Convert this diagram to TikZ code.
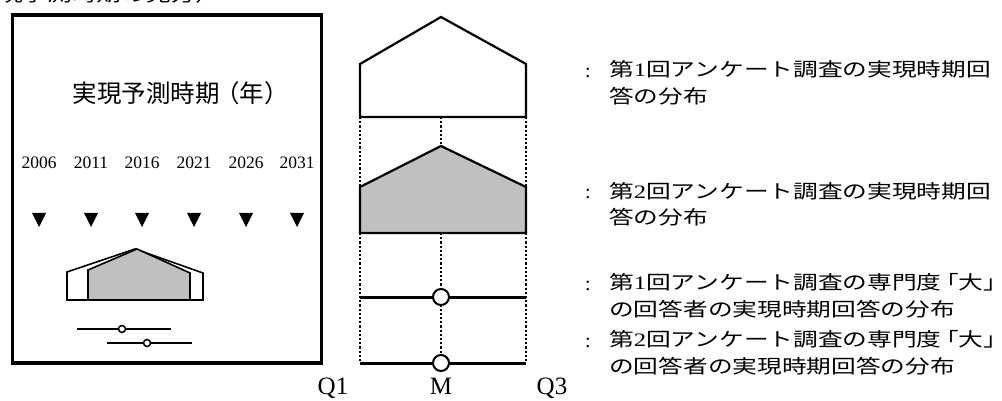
\documentclass[tikz,border=0pt]{standalone}
\usepackage{fontspec}
\usepackage{graphicx}
\setmainfont{Liberation Serif}
\newfontfamily\jp{Noto Sans CJK JP}
\definecolor{boxgray}{RGB}{192,192,192}
\newcommand\wtwo[2]{\scalebox{1.3}[1]{\begin{tabular}[t]{@{}l@{}}#1\\#2\end{tabular}}}
\newcommand\wone[1]{\scalebox{1.3}[1]{#1}}
\newcommand\dai{\kern-0.3em「大」\kern-0.5em}
\tikzset{
  frame/.style={line width=3.4pt},
  outl/.style={line width=2.2pt, line join=miter},
  soutl/.style={line width=1.6pt, line join=miter},
  dotl/.style={line width=2.8pt, dash pattern=on 2.2pt off 2pt},
  bar/.style={line width=3pt},
  med/.style={circle, draw, line width=2pt, fill=white, minimum size=16pt, inner sep=0pt},
  sbar/.style={line width=1.5pt},
  smed/.style={circle, draw, line width=1.5pt, fill=white, minimum size=7pt, inner sep=0pt},
  rt/.style={anchor=base west, inner sep=0pt, font=\jp\fontsize{19}{27}\selectfont},
  colon/.style={anchor=base, inner sep=0pt, font=\fontsize{20}{24}\selectfont},
  yr/.style={inner sep=0pt, font=\fontsize{17.5}{20}\selectfont},
  qlab/.style={anchor=base, inner sep=0pt, font=\fontsize{25}{28}\selectfont},
  ttl/.style={inner sep=0pt, font=\jp\fontsize{24.5}{27}\selectfont},
  tri/.style={fill=black}
}
\begin{document}
\begin{tikzpicture}[x=1pt,y=-1pt]
\useasboundingbox (0,0) rectangle (1002,401);
\fill[white] (0,0) rectangle (1002,401);

% clipped heading
\node[rt] (head) at (-2,1.5) {\wone{\llap{（実}現予測時期の見方）}};

% left frame
\draw[frame] (12.5,15) rectangle (321.5,363);
\node[ttl] (title) at (177,93) {実現予測時期\kern-0.2em（年）\kern-0.3em};

\foreach \x/\y [count=\i] in {39/2006,91/2011,142/2016,194/2021,246/2026,297/2031}{
  \node[yr] (yr\i) at (\x,163) {\y};
  \fill[tri] (\x-7,213) -- (\x+7,213) -- (\x,227) -- cycle;
}

% small distributions
\draw[soutl, fill=white] (67,300) -- (67,272) -- (135,249) -- (203,273) -- (203,300) -- cycle;
\draw[soutl, fill=boxgray] (88,300) -- (88,270) -- (137,249) -- (190,273) -- (190,300) -- cycle;

\node[smed] (sm1) at (122,329) {};
\node[smed] (sm2) at (147,343) {};
\coordinate (s1a) at (77,329); \coordinate (s1b) at (171,329);
\coordinate (s2a) at (107,343); \coordinate (s2b) at (192,343);
\draw[sbar] (s1a) -- (sm1) -- (s1b);
\draw[sbar] (s2a) -- (sm2) -- (s2b);

% middle legend figure
\draw[dotl] (360,117) -- (360,187);
\draw[dotl] (526,117) -- (526,187);
\draw[dotl] (441,117) -- (441,146);
\draw[dotl] (360,233) -- (360,363);
\draw[dotl] (526,233) -- (526,363);
\draw[dotl] (441,233) -- (441,363);

\draw[outl, fill=white] (360,117) -- (360,64) -- (441,17) -- (526,64) -- (526,117) -- cycle;
\draw[outl, fill=boxgray] (360,233) -- (360,187) -- (441,146) -- (526,187) -- (526,233) -- cycle;

\coordinate (b1a) at (360,297); \coordinate (b1b) at (526,297);
\coordinate (b2a) at (360,363); \coordinate (b2b) at (526,363);
\draw[bar] (b1a) -- (b1b);
\draw[bar] (b2a) -- (b2b);
\node[med] (m1) at (441,297) {};
\node[med] (m2) at (441,363) {};

\node[qlab] (q1) at (333,394) {Q1};
\node[qlab] (mm) at (441,394) {M};
\node[qlab] (q3) at (552,394) {Q3};

% right descriptions
\node[colon] (c1) at (588,78) {:};
\node[rt] (t1) at (609,77) {\wtwo{第{\rmfamily 1}回アンケート調査の実現時期回}{答の分布}};
\node[colon] (c2) at (588,199) {:};
\node[rt] (t2) at (609,198) {\wtwo{第{\rmfamily 2}回アンケート調査の実現時期回}{答の分布}};
\node[colon] (c3) at (588,290) {:};
\node[rt] (t3) at (609,289) {\wtwo{第{\rmfamily 1}回アンケート調査の専門度\dai}{の回答者の実現時期回答の分布}};
\node[colon] (c4) at (588,347) {:};
\node[rt] (t4) at (609,346) {\wtwo{第{\rmfamily 2}回アンケート調査の専門度\dai}{の回答者の実現時期回答の分布}};
\end{tikzpicture}
\end{document}
